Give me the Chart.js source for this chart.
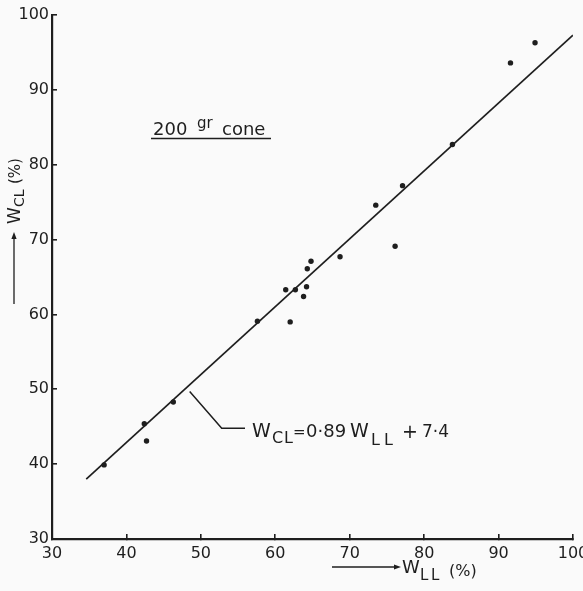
<!DOCTYPE html>
<html>
<head>
<meta charset="utf-8">
<script src="https://cdn.jsdelivr.net/npm/chart.js@4.4.1/dist/chart.umd.min.js"></script>
<style>
  html, body { margin: 0; padding: 0; background: #fafafa; }
  canvas { display: block; }
</style>
</head>
<body>
<canvas id="plot" width="583" height="591"></canvas>
<script>
// liquid limit W_LL (%) and cone limit W_CL (%)
const llValues = [37.0, 42.4, 42.7, 46.3, 57.6, 62.0, 61.4, 62.7, 64.2, 63.8, 64.3, 64.8, 68.7, 73.5, 76.1, 77.1, 83.8, 91.6, 94.9];
const clValues = [39.9, 45.4, 43.1, 48.3, 59.1, 59.0, 63.3, 63.3, 63.7, 62.4, 66.1, 67.1, 67.7, 74.6, 69.1, 77.2, 82.7, 93.6, 96.3];

// fitted line as drawn
const fitLL = [34.6, 100];
const fitCL = [38.0, 97.3];

const axisMin = 30;
const axisMax = 100;
const axisStep = 10;

const ink = '#1e1e1e';
const fontFamily = '"DejaVu Sans", sans-serif';

const points = llValues.map((v, i) => ({ x: v, y: clValues[i] }));
const fitPoints = fitLL.map((v, i) => ({ x: v, y: fitCL[i] }));

function put(ctx, str, x, y, size) {
  ctx.font = size + 'px ' + fontFamily;
  ctx.fillText(str, x, y);
}

function arrowHead(ctx, x, y, dx, dy) {
  // tip at x,y pointing along dx,dy
  const px = -dy, py = dx;
  ctx.beginPath();
  ctx.moveTo(x, y);
  ctx.lineTo(x - dx * 7 + px * 2.6, y - dy * 7 + py * 2.6);
  ctx.lineTo(x - dx * 7 - px * 2.6, y - dy * 7 - py * 2.6);
  ctx.closePath();
  ctx.fill();
}

const labels = {
  id: 'labels',
  afterDraw(chart) {
    const ctx = chart.ctx;
    const xs = chart.scales.x, ys = chart.scales.y;
    ctx.save();
    ctx.fillStyle = ink;
    ctx.strokeStyle = ink;
    ctx.textBaseline = 'alphabetic';
    ctx.textAlign = 'left';

    // leader line to the fitted line
    ctx.lineWidth = 1.5;
    ctx.beginPath();
    ctx.moveTo(xs.getPixelForValue(48.5), ys.getPixelForValue(49.7));
    ctx.lineTo(xs.getPixelForValue(52.8), ys.getPixelForValue(44.8));
    ctx.lineTo(245, ys.getPixelForValue(44.8));
    ctx.stroke();

    // equation
    put(ctx, 'W', 252, 437, 19);
    put(ctx, 'C', 272, 443, 16);
    put(ctx, 'L', 284, 443, 16);
    put(ctx, '=', 293, 437, 15);
    put(ctx, '0·89', 306, 437, 18);
    put(ctx, 'W', 350, 437, 19);
    put(ctx, 'L', 371, 445, 16);
    put(ctx, 'L', 384, 445, 16);
    put(ctx, '+', 402, 438, 19);
    put(ctx, '7·4', 422, 437, 17);

    // 200 gr cone
    put(ctx, '200', 153, 135, 18);
    put(ctx, 'gr', 197, 128, 15);
    put(ctx, 'cone', 222, 135, 18);
    ctx.lineWidth = 1.5;
    ctx.beginPath();
    ctx.moveTo(151, 138.5);
    ctx.lineTo(271, 138.5);
    ctx.stroke();

    // x axis title with arrow
    ctx.lineWidth = 1.3;
    ctx.beginPath();
    ctx.moveTo(332, 567);
    ctx.lineTo(395, 567);
    ctx.stroke();
    arrowHead(ctx, 401, 567, 1, 0);
    put(ctx, 'W', 402, 573, 18);
    put(ctx, 'L', 420, 580, 15);
    put(ctx, 'L', 431, 580, 15);
    put(ctx, '(%)', 449, 576, 16);

    // y axis title with arrow
    ctx.beginPath();
    ctx.moveTo(14, 304);
    ctx.lineTo(14, 239);
    ctx.stroke();
    arrowHead(ctx, 14, 232, 0, -1);
    ctx.translate(20, 224);
    ctx.rotate(-Math.PI / 2);
    put(ctx, 'W', 0, 0, 17);
    put(ctx, 'CL', 17, 4, 14);
    put(ctx, '(%)', 40, 0, 15);
    ctx.restore();
  }
};

const tickFont = { family: fontFamily, size: 16 };

new Chart(document.getElementById('plot'), {
  type: 'scatter',
  data: {
    datasets: [
      {
        label: 'W_CL',
        data: points,
        backgroundColor: ink,
        borderWidth: 0,
        pointRadius: 2.7
      },
      {
        label: 'fit',
        type: 'line',
        data: fitPoints,
        borderColor: ink,
        borderWidth: 1.7,
        pointRadius: 0,
        fill: false
      }
    ]
  },
  options: {
    responsive: false,
    animation: false,
    layout: { padding: { top: 15, right: 10, left: 0, bottom: 0 } },
    plugins: {
      legend: { display: false },
      tooltip: { enabled: false }
    },
    scales: {
      x: {
        type: 'linear',
        min: axisMin,
        max: axisMax,
        ticks: { stepSize: axisStep, color: ink, font: tickFont, padding: 10 },
        grid: { drawOnChartArea: false, tickLength: -5, color: ink, lineWidth: 1.6 },
        border: { color: ink, width: 2.2 },
        afterFit(s) { s.height = 52; s.paddingLeft = 0; s.paddingRight = 0; }
      },
      y: {
        type: 'linear',
        min: axisMin,
        max: axisMax,
        ticks: { stepSize: axisStep, color: ink, font: tickFont, padding: 8 },
        grid: { drawOnChartArea: false, tickLength: -5, color: ink, lineWidth: 1.6 },
        border: { color: ink, width: 2.2 },
        afterFit(s) { s.width = 52; s.paddingTop = 0; s.paddingBottom = 0; }
      }
    }
  },
  plugins: [labels]
});
</script>
</body>
</html>
